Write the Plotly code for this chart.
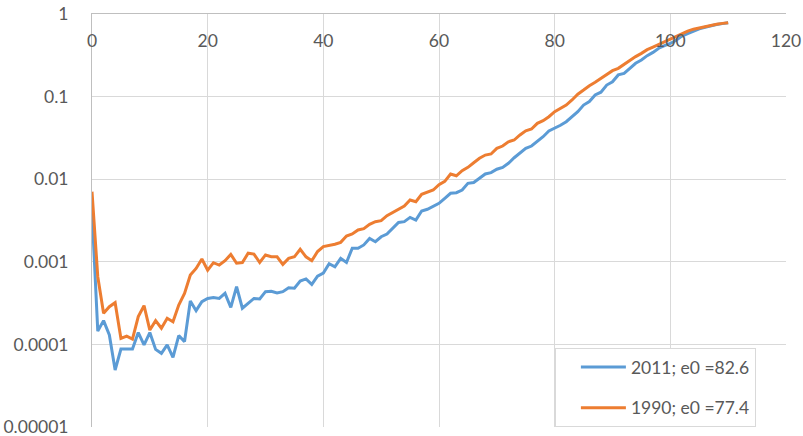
import plotly.graph_objects as go

ages = list(range(0, 111))

q_2011 = [
    0.0041, 0.000145, 0.000194, 0.00013, 0.000049, 0.000088, 0.000088, 0.000088, 0.000139, 0.0000984,
    0.000139, 0.000087, 0.000078, 0.0000984, 0.0000697, 0.000128, 0.000108, 0.000335, 0.000256, 0.000329,
    0.00036, 0.00037, 0.00036, 0.000415, 0.00028, 0.0005, 0.000274, 0.000314, 0.00036, 0.000355,
    0.000435, 0.00044, 0.00042, 0.000435, 0.000486, 0.00048, 0.000586, 0.00062, 0.000533, 0.00067,
    0.00073, 0.00095, 0.00087, 0.0011, 0.00098, 0.00146, 0.00146, 0.0016, 0.00192, 0.00175,
    0.00201, 0.00217, 0.00259, 0.003, 0.00306, 0.00345, 0.0032, 0.00412, 0.00432, 0.00474,
    0.0051, 0.00587, 0.00675, 0.00687, 0.0074, 0.0089, 0.0091, 0.01025, 0.01156, 0.012,
    0.0132, 0.0139, 0.01556, 0.0182, 0.0206, 0.0236, 0.0252, 0.0284, 0.0327, 0.0383,
    0.0413, 0.045, 0.0497, 0.0571, 0.0657, 0.079, 0.087, 0.1045, 0.113, 0.138,
    0.151, 0.183, 0.191, 0.22, 0.253, 0.277, 0.313, 0.343, 0.385, 0.413,
    0.44, 0.48, 0.54, 0.58, 0.62, 0.66, 0.69, 0.72, 0.745, 0.765, 0.785,
]

q_1990 = [
    0.00706, 0.00066, 0.000238, 0.000286, 0.00032, 0.000118, 0.000126, 0.000116, 0.000217, 0.000294,
    0.000149, 0.000194, 0.000157, 0.000207, 0.000188, 0.0003, 0.000415, 0.00069, 0.00083, 0.00108,
    0.00079, 0.000975, 0.000914, 0.00103, 0.00123, 0.00096, 0.00098, 0.00127, 0.00124, 0.00098,
    0.00121, 0.00115, 0.00115, 0.00093, 0.0011, 0.00115, 0.00142, 0.00115, 0.00103, 0.00133,
    0.00153, 0.00158, 0.00163, 0.00172, 0.00205, 0.00217, 0.00243, 0.00252, 0.00284, 0.00306,
    0.00315, 0.00362, 0.00397, 0.00432, 0.00474, 0.0056, 0.00534, 0.00656, 0.00693, 0.0074,
    0.0086, 0.0094, 0.01156, 0.011, 0.01268, 0.01393, 0.0158, 0.0179, 0.0196, 0.0202,
    0.0236, 0.0252, 0.0284, 0.0298, 0.0343, 0.0386, 0.0405, 0.0475, 0.0511, 0.0571,
    0.0657, 0.072, 0.079, 0.091, 0.107, 0.12, 0.1355, 0.149, 0.166, 0.183,
    0.206, 0.22, 0.246, 0.27, 0.305, 0.334, 0.37, 0.398, 0.43, 0.462,
    0.498, 0.54, 0.585, 0.62, 0.655, 0.68, 0.71, 0.73, 0.75, 0.77, 0.785,
]

series_names = ["2011; e0 =82.6", "1990; e0 =77.4"]
x_ticks = [0, 20, 40, 60, 80, 100, 120]
y_tickvals = [0.00001, 0.0001, 0.001, 0.01, 0.1, 1]
y_ticktext = ["0.00001", "0.0001", "0.001", "0.01", "0.1", "1"]

FONT = "Lato"
TXT = "#595959"
FS = 17.5

fig = go.Figure()
fig.add_trace(go.Scatter(x=ages, y=q_2011, mode="lines", name=series_names[0],
                         legendgroup="a",
                         line=dict(color="#5B9BD5", width=3)))
fig.add_trace(go.Scatter(x=ages, y=q_1990, mode="lines", name=series_names[1],
                         legendgroup="b",
                         line=dict(color="#ED7D31", width=3)))

fig.update_layout(
    width=803, height=436,
    margin=dict(l=92, r=17, t=14, b=9, autoexpand=False),
    paper_bgcolor="white", plot_bgcolor="white",
    font=dict(family=FONT, size=FS, color=TXT),
    showlegend=True,
    legend=dict(
        x=0.667, y=0, xanchor="left", yanchor="bottom",
        bgcolor="white", bordercolor="#D9D9D9", borderwidth=1,
        font=dict(family=FONT, size=FS, color=TXT),
        tracegroupgap=15, itemwidth=45, indentation=20,
        entrywidth=200,
    ),
    xaxis=dict(
        range=[0, 120], tickvals=x_ticks, side="top",
        ticklabelposition="inside", ticks="", automargin=False,
        ticklabeloverflow="allow",
        showgrid=True, gridcolor="#D9D9D9", gridwidth=1,
        showline=True, linecolor="#BFBFBF", linewidth=1,
        zeroline=False, ticklabelstandoff=21,
        tickfont=dict(family=FONT, size=FS, color=TXT),
    ),
    yaxis=dict(
        type="log", range=[-5, 0], tickvals=y_tickvals, ticktext=y_ticktext,
        ticks="", showgrid=True, gridcolor="#D9D9D9", gridwidth=1,
        showline=True, linecolor="#BFBFBF", linewidth=1, automargin=False,
        ticklabeloverflow="allow",
        zeroline=False, ticklabelstandoff=19,
        tickfont=dict(family=FONT, size=FS, color=TXT),
    ),
)

fig.write_html(
    "out.html",
    config={"displayModeBar": False},
    post_script="document.body.style.margin='0';document.body.style.overflow='hidden';",
)
